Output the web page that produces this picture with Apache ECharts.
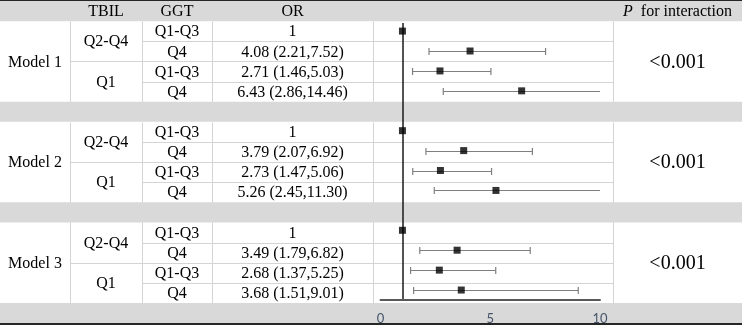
<!DOCTYPE html>
<html>
<head>
<meta charset="utf-8">
<script src="https://cdn.jsdelivr.net/npm/echarts@6/dist/echarts.min.js"></script>
<style>
html,body{margin:0;padding:0;background:#fff;}
#chart{width:742px;height:325px;}
</style>
</head>
<body>
<div id="chart"></div>
<script>
// ---------- data ----------
const models = ['Model 1', 'Model 2', 'Model 3'];
const tbilGroups = ['Q2-Q4', 'Q1'];
const ggtGroups = ['Q1-Q3', 'Q4'];
const orValues = [1, 4.08, 2.71, 6.43, 1, 3.79, 2.73, 5.26, 1, 3.49, 2.68, 3.68];
const ciLower = [null, 2.21, 1.46, 2.86, null, 2.07, 1.47, 2.45, null, 1.79, 1.37, 1.51];
const ciUpper = [null, 7.52, 5.03, 14.46, null, 6.92, 5.06, 11.30, null, 6.82, 5.25, 9.01];
const pValues = ['<0.001', '<0.001', '<0.001'];
const headerLabels = ['TBIL', 'GGT', 'OR'];
const pHeaderRest = 'for interaction';
const xTicks = [0, 5, 10];
const refValue = 1;

// ---------- layout ----------
const COLS = [0, 70, 142, 212, 373, 613, 742];   // column edges (px)
const ROWS_TOTAL = 16;                           // header + 3*(4 rows) + 2 separators + bottom band
const GRID_TOP = 1, GRID_H = 322;
const ROW_H = GRID_H / ROWS_TOTAL;
const GRAY = '#d9d9d9', LINE = '#d4d4d4';
const SERIF = '"Liberation Serif", "Times New Roman", serif';
const FS = 16;

function rowIndex(block, r) { return 1 + block * 5 + r; }

const orLabels = orValues.map((v, i) => ciLower[i] == null ? String(v) :
  v.toFixed(2) + ' (' + ciLower[i].toFixed(2) + ',' + ciUpper[i].toFixed(2) + ')');

const chart = echarts.init(document.getElementById('chart'), null, {renderer: 'canvas'});

function tableRender(params, api) {
  const P = (x, y) => api.coord([x, y]);
  const ch = [];
  const W = COLS[COLS.length - 1];
  [0, 5, 10, 15].forEach(r => {
    const a = P(0, r), b = P(W, r + 1);
    ch.push({type: 'rect', shape: {x: a[0], y: a[1], width: b[0] - a[0], height: b[1] - a[1]}, style: {fill: GRAY}});
  });
  ch.push({type: 'rect', shape: {x: 0, y: 0, width: W, height: 1}, style: {fill: '#262626'}});
  const bot = P(0, 16)[1];
  ch.push({type: 'rect', shape: {x: 0, y: bot, width: W, height: 2}, style: {fill: '#262626'}});
  const line = (x1, y1, x2, y2) => {
    const a = P(x1, y1), b = P(x2, y2);
    ch.push({type: 'line', shape: {x1: Math.round(a[0]) + 0.5, y1: Math.round(a[1]) + 0.5, x2: Math.round(b[0]) + 0.5, y2: Math.round(b[1]) + 0.5},
      style: {stroke: LINE, lineWidth: 1}});
  };
  const text = (str, x, y, extra) => {
    const p = P(x, y);
    ch.push({type: 'text', x: p[0], y: p[1] + 1, style: Object.assign({text: str, fill: '#000', font: FS + 'px ' + SERIF,
      align: 'center', verticalAlign: 'middle'}, extra || {})});
  };
  headerLabels.forEach((h, i) => text(h, (COLS[i + 1] + COLS[i + 2]) / 2, 0.5));
  text('{i|P}  ' + pHeaderRest, (COLS[5] + COLS[6]) / 2, 0.5, {
    rich: {i: {fontStyle: 'italic', fontSize: FS, fontFamily: SERIF, fill: '#000'}}
  });
  models.forEach((m, b) => {
    const top = rowIndex(b, 0);
    for (let c = 1; c <= 5; c++) line(COLS[c], top, COLS[c], top + 4);
    line(COLS[2], top + 1, COLS[5], top + 1);
    line(COLS[1], top + 2, COLS[5], top + 2);
    line(COLS[2], top + 3, COLS[5], top + 3);
    text(m, (COLS[0] + COLS[1]) / 2, top + 2);
    tbilGroups.forEach((t, ti) => text(t, (COLS[1] + COLS[2]) / 2, top + ti * 2 + 1));
    for (let r = 0; r < 4; r++) {
      text(ggtGroups[r % 2], (COLS[2] + COLS[3]) / 2, top + r + 0.5);
      text(orLabels[b * 4 + r], (COLS[3] + COLS[4]) / 2, top + r + 0.5);
    }
    text(pValues[b], (COLS[5] + COLS[6]) / 2, top + 2, {font: '20px ' + SERIF});
  });
  return {type: 'group', children: ch};
}

const ciData = [], pointData = [];
orValues.forEach((v, i) => {
  const b = Math.floor(i / 4), r = i % 4;
  const yc = rowIndex(b, r) + 0.5;
  pointData.push([v, yc]);
  if (ciLower[i] != null) ciData.push([ciLower[i], yc, ciUpper[i]]);
});

const X_MAX = xTicks[xTicks.length - 1];

function ciRender(params, api) {
  const lo = api.value(0), yc = api.value(1), hi = api.value(2);
  const a = api.coord([lo, yc]), b = api.coord([Math.min(hi, X_MAX), yc]);
  const y = Math.round(a[1]) + 0.5;
  const st = {stroke: '#7f7f7f', lineWidth: 1.2};
  const ch = [{type: 'line', shape: {x1: a[0], y1: y, x2: b[0], y2: y}, style: st},
              {type: 'line', shape: {x1: a[0], y1: y - 3.5, x2: a[0], y2: y + 3.5}, style: st}];
  if (hi <= X_MAX) ch.push({type: 'line', shape: {x1: b[0], y1: y - 3.5, x2: b[0], y2: y + 3.5}, style: st});
  return {type: 'group', children: ch};
}

const option = {
  animation: false,
  grid: [
    {left: 0, right: 0, top: GRID_TOP, height: GRID_H},
    {left: 380.5, width: 219.5, top: GRID_TOP + ROW_H, height: ROW_H * 14}
  ],
  xAxis: [
    {gridIndex: 0, type: 'value', min: 0, max: COLS[COLS.length - 1], show: false},
    {gridIndex: 1, type: 'value', min: 0, max: X_MAX, interval: 5, z: 10,
      axisLine: {show: true, lineStyle: {color: '#595959', width: 2}},
      axisTick: {show: false}, splitLine: {show: false},
      axisLabel: {color: '#44546a', fontSize: 13, fontFamily: 'Lato, "Open Sans", sans-serif', margin: 12}}
  ],
  yAxis: [
    {gridIndex: 0, type: 'value', min: 0, max: ROWS_TOTAL, inverse: true, show: false},
    {gridIndex: 1, type: 'value', min: 1, max: 15, inverse: true, show: false}
  ],
  series: [
    {type: 'custom', xAxisIndex: 0, yAxisIndex: 0, z: 1, silent: true, clip: false,
      data: [[0, 0]], renderItem: tableRender},
    {type: 'custom', xAxisIndex: 1, yAxisIndex: 1, z: 5, silent: true, clip: false,
      encode: {x: [0, 2], y: 1}, data: ciData, renderItem: ciRender},
    {type: 'scatter', xAxisIndex: 1, yAxisIndex: 1, z: 6, silent: true,
      symbol: 'rect', symbolSize: 7, itemStyle: {color: '#000'}, data: pointData,
      markLine: {silent: true, symbol: 'none', label: {show: false},
        lineStyle: {color: '#1a1a1a', width: 1.5, type: 'solid'},
        data: [[{coord: [refValue, 1.1]}, {coord: [refValue, 15]}]]}}
  ]
};
chart.setOption(option);
</script>
</body>
</html>
